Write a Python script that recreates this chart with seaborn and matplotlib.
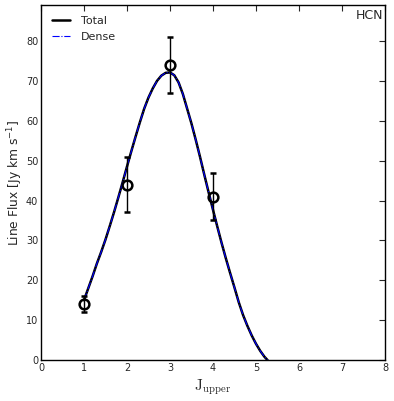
import matplotlib
matplotlib.use("Agg")
import matplotlib.pyplot as plt
import seaborn as sns
import pandas as pd

# observed HCN line fluxes
j_upper = [1, 2, 3, 4]
flux = [14, 44, 74, 41]
flux_err = [2, 7, 7, 6]

# model curve (Total and Dense overlap)
j_model = [1.0, 1.1, 1.2, 1.3, 1.4, 1.5, 1.6, 1.7, 1.8, 1.9, 2.0, 2.1, 2.2,
           2.3, 2.4, 2.5, 2.6, 2.7, 2.8, 2.9, 3.0, 3.1, 3.2, 3.3, 3.4, 3.5,
           3.6, 3.7, 3.8, 3.9, 4.0, 4.1, 4.2, 4.3, 4.4, 4.5, 4.6, 4.7, 4.8,
           4.9, 5.0, 5.1, 5.2, 5.27]
total_model = [15, 18, 21, 24.2, 27.1, 30.2, 33.6, 37.1, 40.8, 44.6, 48.5,
               52.3, 56, 59.6, 63.0, 65.8, 68.1, 70.0, 71.3, 72.0, 72.1, 71.4,
               69.6, 66.7, 63.0, 59.3, 55.2, 50.9, 46.4, 42.0, 37.7, 33.5,
               29.4, 25.5, 21.8, 18.2, 14.5, 11.3, 8.6, 6.2, 4.1, 2.3, 0.8, 0]
dense_model = total_model

sns.set_style("white")
plt.rcParams.update({
    "xtick.direction": "in", "ytick.direction": "in",
    "xtick.top": True, "ytick.right": True,
    "xtick.major.size": 4, "ytick.major.size": 4,
    "axes.edgecolor": "black", "axes.linewidth": 1.0,
})
plt.rcParams["font.family"] = ["DejaVu Sans"]

model = pd.DataFrame({"J": j_model, "Total": total_model, "Dense": dense_model})

fig = plt.figure(figsize=(3.94, 4.01), dpi=100)
ax = fig.add_axes([0.104, 0.102, 0.873, 0.8855])

sns.lineplot(data=model, x="J", y="Total", color="black", lw=1.8, ax=ax, label="Total")
sns.lineplot(data=model, x="J", y="Dense", color="blue", lw=0.8, ls="-.", ax=ax, label="Dense")

ax.errorbar(j_upper, flux, yerr=flux_err, fmt="o", mfc="none", mec="black", mew=1.8,
            ms=7, ecolor="black", elinewidth=1.0, capsize=2.5, capthick=1.2, zorder=5)

ax.set_xlim(0, 8)
ax.set_ylim(0, 89)
ax.set_xticks(range(0, 9))
ax.set_yticks(range(0, 81, 10))
ax.tick_params(labelsize=7, pad=2, width=0.8)

ax.set_xlabel(r"$\mathrm{J_{upper}}$", fontsize=11, math_fontfamily="cm", labelpad=3)
ax.set_ylabel(r"Line Flux [Jy km s$^{-1}$]", fontsize=8.8, labelpad=0.5)

ax.text(0.995, 0.988, "HCN", transform=ax.transAxes, ha="right", va="top", fontsize=9)

ax.legend(loc="upper left", frameon=False, fontsize=8, handlelength=1.6,
          handletextpad=1.0, borderaxespad=0.6, labelspacing=0.55)

fig.savefig("out.png", dpi=100)
